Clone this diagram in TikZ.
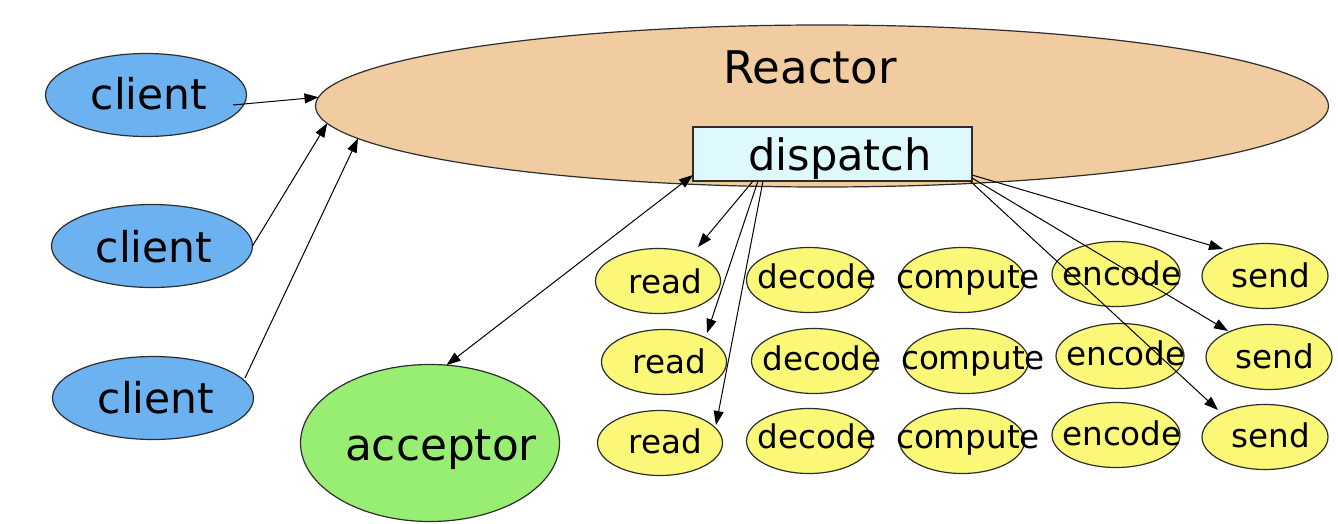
\documentclass[tikz,border=0pt]{standalone}
\usepackage{fontspec}
\setmainfont{DejaVu Sans}
\usetikzlibrary{shapes.geometric,arrows.meta,calc}
\definecolor{reactorfill}{RGB}{241,204,160}
\definecolor{dispfill}{RGB}{221,249,254}
\definecolor{clientfill}{RGB}{108,178,240}
\definecolor{accfill}{RGB}{152,238,114}
\definecolor{taskfill}{RGB}{250,248,118}
\definecolor{edge}{RGB}{45,45,45}
\begin{document}
\begin{tikzpicture}[x=0.5pt,y=-0.5pt,
  ell/.style={ellipse,draw=edge,line width=0.6pt,inner sep=0pt,outer sep=0pt},
  task/.style={ell,fill=taskfill,minimum width=62.5pt,minimum height=32.5pt},
  client/.style={ell,fill=clientfill,minimum width=100.5pt,minimum height=41.5pt},
  small/.style={font=\fontsize{16.3}{18}\selectfont,anchor=base,inner sep=0pt},
  big/.style={font=\fontsize{21.2}{24}\selectfont,anchor=base,inner sep=0pt},
  arr/.style={-{Triangle[length=7pt,width=5pt]},line width=0.5pt,draw=black},
  darr/.style={{Triangle[length=7pt,width=5pt]}-{Triangle[length=7pt,width=5pt]},line width=0.5pt,draw=black}
]
\useasboundingbox (0,0) rectangle (1338,524);
% Reactor and dispatch
\node[ell,fill=reactorfill,minimum width=506.5pt,minimum height=81pt] (reactor) at (822,106) {};
\node[big,font=\fontsize{22.5}{26}\selectfont] (treactor) at (810,84) {Reactor};
\node[draw=edge,line width=0.6pt,fill=dispfill,rectangle,inner sep=0pt,outer sep=0pt,minimum width=139.5pt,minimum height=27pt] (disp) at (832.5,154) {};
\node[big,font=\fontsize{21.6}{24}\selectfont] (tdisp) at (840,170) {dispatch};
% clients
\node[client] (c1) at (146,95) {};
\node[big] (tc1) at (149,110) {client};
\node[client] (c2) at (152,246) {};
\node[big] (tc2) at (154,262) {client};
\node[client] (c3) at (153,398) {};
\node[big] (tc3) at (156,413) {client};
% acceptor
\node[ell,fill=accfill,minimum width=129.5pt,minimum height=78.5pt] (acc) at (430,443) {};
\node[big,font=\fontsize{21.9}{24}\selectfont] (tacc) at (441,460) {acceptor};
% tasks row 1
\node[task] (r1) at (658,281) {};
\node[small] (tr1) at (665,293) {read};
\node[task] (d1) at (809,280) {};
\node[small] (td1) at (817,288) {decode};
\node[task] (p1) at (962,280) {};
\node[small] (tp1) at (968,288) {compute};
\node[task,minimum width=64pt] (e1) at (1116,274) {};
\node[small] (te1) at (1122,285) {encode};
\node[task,minimum width=63pt] (s1) at (1265,276) {};
\node[small] (ts1) at (1271,287) {send};
% row 2
\node[task] (r2) at (664,362) {};
\node[small] (tr2) at (669,373) {read};
\node[task] (d2) at (814,361) {};
\node[small] (td2) at (822,370) {decode};
\node[task] (p2) at (966,361) {};
\node[small] (tp2) at (973,369) {compute};
\node[task,minimum width=64pt] (e2) at (1120,356) {};
\node[small] (te2) at (1126,365) {encode};
\node[task,minimum width=63pt] (s2) at (1269,357) {};
\node[small] (ts2) at (1275,368) {send};
% row 3
\node[task] (r3) at (660,443) {};
\node[small] (tr3) at (665,453) {read};
\node[task] (d3) at (809,441) {};
\node[small] (td3) at (817,448) {decode};
\node[task] (p3) at (962,441) {};
\node[small] (tp3) at (968,448) {compute};
\node[task,minimum width=64pt] (e3) at (1116,435) {};
\node[small] (te3) at (1122,445) {encode};
\node[task,minimum width=63pt] (s3) at (1265,437) {};
\node[small] (ts3) at (1271,447) {send};
% connectors
\draw[arr] ($(c1.center)+(87,10)$) -- (reactor.179.3);
\draw[arr] (c2.east) -- (reactor.182.2);
\draw[arr] ($(c3.center)+(92,-20)$) -- (reactor.184.24);
\draw[darr] (acc.78) -- ($(disp.south west)+(0,-6)$);
\draw[arr] ($(disp.south west)+(60,0)$) -- ($(r1.center)+(40,-34)$);
\draw[arr] ($(disp.south west)+(65,0)$) -- ($(r2.center)+(43,-29)$);
\draw[arr] ($(disp.south west)+(70,0)$) -- ($(r3.center)+(56,-18)$);
\draw[arr] ($(disp.south east)+(0,-6)$) -- ($(s1.center)+(-42,-27)$);
\draw[arr] ($(disp.south east)+(0,-3)$) -- ($(s2.center)+(-41,-26)$);
\draw[arr] ($(disp.south east)+(-2,0)$) -- ($(s3.center)+(-47,-27)$);
\end{tikzpicture}
\end{document}
